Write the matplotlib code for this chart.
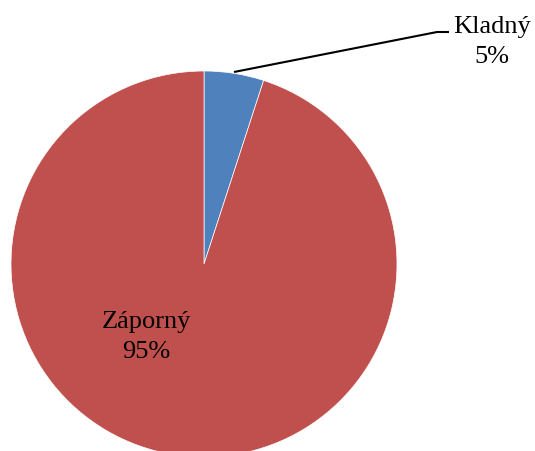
import matplotlib
matplotlib.use("Agg")
import matplotlib.pyplot as plt

labels = ["Kladný", "Záporný"]
values = [5, 95]
colors = ["#4F81BD", "#C0504D"]

W, H = 535, 452
fig = plt.figure(figsize=(W / 100, H / 100), dpi=100)
ax = fig.add_axes([0, 0, 1, 1])

cx, cy, r = 204, H - 265, 193
ax.pie(values, colors=colors, startangle=90, counterclock=False,
       center=(cx, cy), radius=r, frame=True,
       wedgeprops=dict(linewidth=0.5, edgecolor="white"))
ax.set_xlim(0, W)
ax.set_ylim(0, H)
ax.set_aspect("equal")
ax.axis("off")

font = dict(family="Liberation Serif", fontsize=19, color="black")
pcts = [f"{v}%" for v in values]
ax.text(492, H - 42, f"{labels[0]}\n{pcts[0]}", ha="center", va="center",
        linespacing=1.45, **font)
ax.text(146, H - 337, f"{labels[1]}\n{pcts[1]}", ha="center", va="center",
        linespacing=1.45, **font)
ax.plot([234, 437, 449], [H - 73, H - 33, H - 33], color="black", lw=1.5,
        solid_capstyle="butt")

fig.savefig("out.png", dpi=100)
